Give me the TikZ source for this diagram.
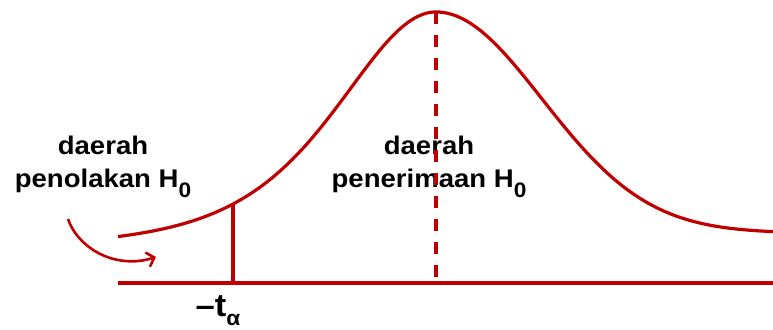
\documentclass[tikz,border=0pt]{standalone}
\usepackage{fontspec}
\setmainfont{Liberation Sans}[FakeStretch=1.08]
\usepackage{tikz}
\usetikzlibrary{positioning,arrows.meta}
\definecolor{tred}{RGB}{192,0,0}
\newcommand{\subidx}[1]{\raisebox{-0.4em}{\fontsize{21}{21}\selectfont #1}}

\begin{document}
\begin{tikzpicture}[x=1pt, y=-1pt, node distance=12pt, >={Straight Barb[length=7pt,width=15pt]}, every node/.style={font=\fontsize{25.5}{33}\selectfont\bfseries, inner sep=0pt}]
\tikzstyle{curve}=[draw=tred, line width=3.2pt]
\tikzstyle{region}=[align=center]
\useasboundingbox (0,0) rectangle (773,329);
\coordinate (left) at (118,283);
\coordinate (right) at (773,283);
\coordinate (peak) at (436,12);
\coordinate (mid) at (436,283);
\coordinate (ttop) at (233,204);
\coordinate (tfoot) at (233,283);
\coordinate (arrowstart) at (68,219);
\coordinate (arrowend) at (156,257);
\node[region] (reject) at (103,167) {daerah\\penolakan H\subidx{0}};
\node[region] (accept) at (429,167) {daerah\\penerimaan H\subidx{0}};
\node[below=of tfoot, xshift=-15pt, font=\fontsize{32}{32}\selectfont\bfseries] (talpha) {–t\raisebox{-0.3em}{\fontsize{21}{21}\selectfont α}};
\draw[curve] (left) -- (right);
% left flank and right flank of the curve
\draw[curve] plot[domain=-3.18:0, samples=90, variable=\u] ({436+100*\u}, {248-236*pow(1+\u*\u/4.3,-2.5)})
  -- plot[domain=0:3.37, samples=90, variable=\u] ({436+100*\u}, {233-221*exp(-\u*\u/2.2472)});
\draw[curve] (ttop) -- (tfoot);
\draw[curve, dash pattern=on 12pt off 11pt] (peak) -- (mid);
\draw[curve, line width=2.6pt, ->] (arrowstart) .. controls (78,248) and (115,270) .. (arrowend);
\end{tikzpicture}
\end{document}
